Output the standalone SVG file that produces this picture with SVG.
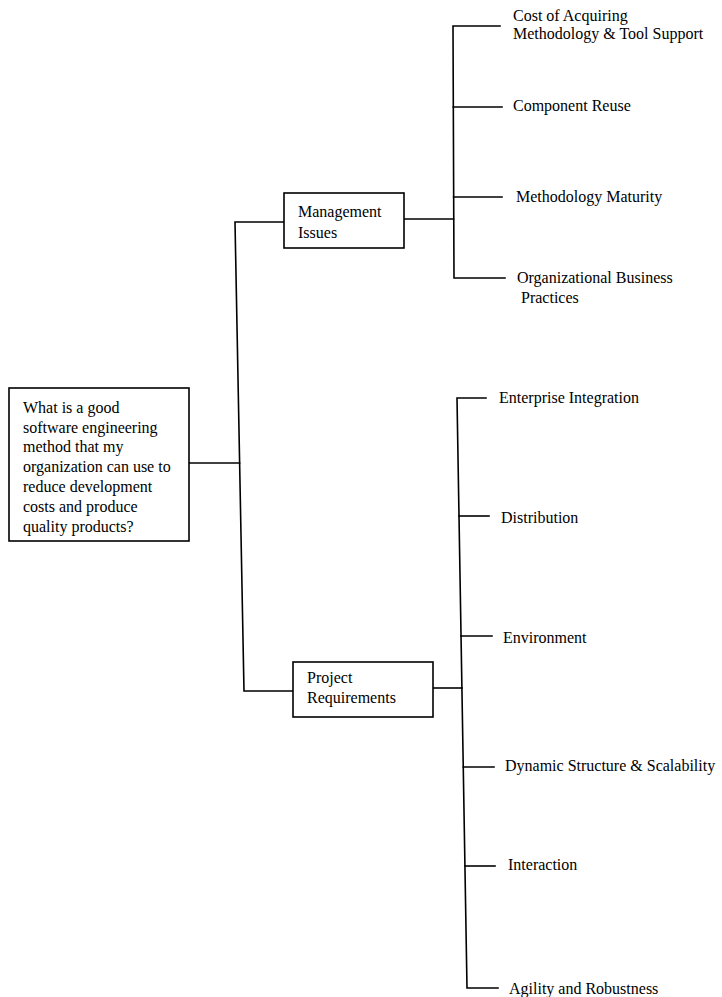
<svg xmlns="http://www.w3.org/2000/svg" width="722" height="997" viewBox="0 0 722 997">
<style>
text{font-family:"Liberation Serif","Times New Roman",serif;font-size:16px;fill:#000}
.box{fill:#fff;stroke:#000;stroke-width:1.6}
.ln{fill:none;stroke:#000;stroke-width:1.6;stroke-linecap:square}
</style>
<rect width="722" height="997" fill="#fff"/>
<g id="connectors">
<path class="ln" d="M189,463 H239.6"/>
<path class="ln" d="M284,222 H235 L244,691 H293"/>
<path class="ln" d="M404,219 H453.5"/>
<path class="ln" d="M500,26 H453 L454,278 H505"/>
<path class="ln" d="M453.3,107 H502"/>
<path class="ln" d="M453.6,197 H502"/>
<path class="ln" d="M433,688 H462"/>
<path class="ln" d="M486,398 H457 L467,988 H498"/>
<path class="ln" d="M459,516 H489"/>
<path class="ln" d="M461,636 H492"/>
<path class="ln" d="M463.3,767 H494"/>
<path class="ln" d="M465,866 H495"/>
</g>
<g id="root">
<rect class="box" x="9" y="388" width="180" height="153"/>
<text x="23" y="413">What is a good</text>
<text x="23" y="433">software engineering</text>
<text x="23" y="452">method that my</text>
<text x="23" y="472">organization can use to</text>
<text x="23" y="492">reduce development</text>
<text x="23" y="512">costs and produce</text>
<text x="23" y="532">quality products?</text>
</g>
<g id="management">
<rect class="box" x="284" y="193" width="120" height="55"/>
<text x="298" y="217">Management</text>
<text x="298" y="238">Issues</text>
</g>
<g id="project">
<rect class="box" x="293" y="662" width="140" height="55"/>
<text x="307" y="683">Project</text>
<text x="307" y="703">Requirements</text>
</g>
<g id="cost">
<text x="513" y="21">Cost of Acquiring</text>
<text x="513" y="39">Methodology &amp; Tool Support</text>
</g>
<g id="reuse"><text x="513" y="111">Component Reuse</text></g>
<g id="maturity"><text x="516" y="202">Methodology Maturity</text></g>
<g id="business">
<text x="517" y="283">Organizational Business</text>
<text x="521" y="303">Practices</text>
</g>
<g id="enterprise"><text x="499" y="403">Enterprise Integration</text></g>
<g id="distribution"><text x="501" y="523">Distribution</text></g>
<g id="environment"><text x="503" y="643">Environment</text></g>
<g id="dynamic"><text x="505" y="771">Dynamic Structure &amp; Scalability</text></g>
<g id="interaction"><text x="508" y="870">Interaction</text></g>
<g id="agility"><text x="509" y="994">Agility and Robustness</text></g>
</svg>
